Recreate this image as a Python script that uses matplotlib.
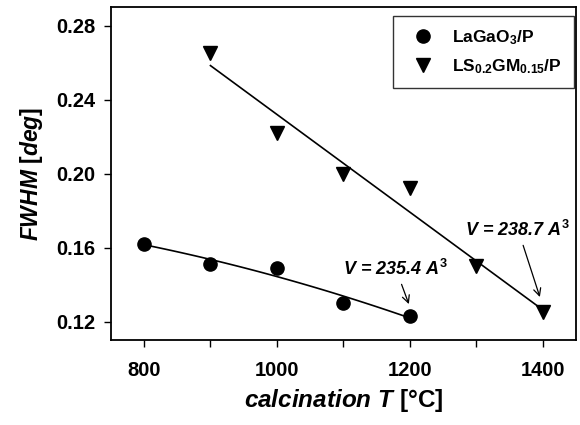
import numpy as np
import matplotlib
matplotlib.use("Agg")
import matplotlib.pyplot as plt

plt.rcParams['font.family'] = ['Liberation Sans', 'DejaVu Sans']
plt.rcParams['font.weight'] = 'bold'
plt.rcParams['axes.labelweight'] = 'bold'
plt.rcParams['mathtext.fontset'] = 'custom'
plt.rcParams['mathtext.rm'] = 'Liberation Sans:bold'
plt.rcParams['mathtext.it'] = 'Liberation Sans:bold:italic'
plt.rcParams['mathtext.bf'] = 'Liberation Sans:bold'

# data
t_lagao = [800, 900, 1000, 1100, 1200]
fwhm_lagao = [0.162, 0.151, 0.149, 0.130, 0.123]
t_lsgm = [900, 1000, 1100, 1200, 1300, 1400]
fwhm_lsgm = [0.265, 0.222, 0.200, 0.192, 0.150, 0.125]
x_ticks = [800, 1000, 1200, 1400]
y_ticks = [0.12, 0.16, 0.20, 0.24, 0.28]

fig = plt.figure(figsize=(5.8, 4.25), dpi=100)
ax = fig.add_axes([0.191, 0.2, 0.802, 0.7835])

ax.plot(t_lagao, fwhm_lagao, 'o', color='black', markersize=9.5, label=r'LaGaO$_3$/P')
ax.plot(t_lsgm, fwhm_lsgm, 'v', color='black', markersize=10, label=r'LS$_{0.2}$GM$_{0.15}$/P')

# fitted trend lines
c1 = np.polyfit(t_lagao, fwhm_lagao, 2)
xs1 = np.linspace(t_lagao[0], t_lagao[-1], 100)
ax.plot(xs1, np.polyval(c1, xs1), color='black', lw=1.2)
c2 = np.polyfit(t_lsgm, fwhm_lsgm, 1)
xs2 = np.linspace(t_lsgm[0], t_lsgm[-1], 100)
ax.plot(xs2, np.polyval(c2, xs2), color='black', lw=1.2)

ax.annotate(r'$V$ = 235.4 $A^3$', xy=(1200, 0.128), xytext=(1179, 0.143),
            ha='center', va='bottom', fontsize=13, fontstyle='italic',
            arrowprops=dict(arrowstyle='->', color='black', lw=0.9))
ax.annotate(r'$V$ = 238.7 $A^3$', xy=(1397, 0.1318), xytext=(1363, 0.1641),
            ha='center', va='bottom', fontsize=13, fontstyle='italic',
            arrowprops=dict(arrowstyle='->', color='black', lw=0.9))

ax.set_xlim(750, 1450)
ax.set_ylim(0.11, 0.29)
ax.set_xticks(x_ticks)
ax.set_xticks([900, 1100, 1300], minor=True)
ax.set_yticks(y_ticks)
ax.set_yticklabels(['%.2f' % v for v in y_ticks])
ax.tick_params(axis='both', which='both', direction='out', length=5, width=1, labelsize=14.5, pad=6)
ax.tick_params(axis='y', which='both', right=False)
ax.tick_params(axis='x', pad=10)
for s in ax.spines.values():
    s.set_linewidth(1.3)

ax.set_xlabel(r'$calcination\ T$ [°C]', fontsize=17.5, labelpad=5)
ax.set_ylabel(r'$FWHM$ [$deg$]', fontsize=16.5, labelpad=8)

leg = ax.legend(loc='upper right', fontsize=12.5, frameon=True, fancybox=False,
                edgecolor='black', borderpad=0.7, labelspacing=0.6, handletextpad=0.7,
                borderaxespad=0.1, bbox_to_anchor=(1.0, 0.978))
leg.get_frame().set_linewidth(1.0)

fig.savefig('out.png', dpi=100)
